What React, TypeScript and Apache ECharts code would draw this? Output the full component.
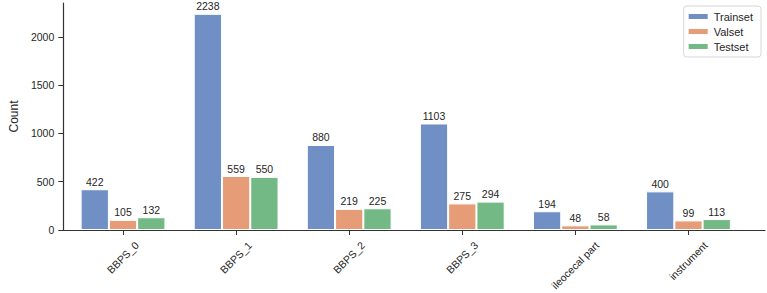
import React, { useEffect, useRef } from "react";
import * as echarts from "echarts";

const categories = ["BBPS_0", "BBPS_1", "BBPS_2", "BBPS_3", "ileocecal part", "instrument"];
const trainset = [422, 2238, 880, 1103, 194, 400];
const valset = [105, 559, 219, 275, 48, 99];
const testset = [132, 550, 225, 294, 58, 113];
const yTicks = [0, 500, 1000, 1500, 2000];

const FONT = "'Liberation Sans', Arial, sans-serif";
const TXT = "#262626";
const XLABEL_SIZE = 10.5;

export default function App() {
  const ref = useRef<HTMLDivElement>(null);
  useEffect(() => {
    document.body.style.margin = "0";
    const chart = echarts.init(ref.current!, null, { renderer: "svg" });
    const yMax = 2350;
    const label = {
      show: true,
      position: "top" as const,
      distance: 2,
      fontSize: 10.5,
      color: TXT,
      fontFamily: FONT,
    };
    const mk = (name: string, data: number[], color: string) => ({
      name,
      type: "bar" as const,
      xAxisIndex: 1,
      yAxisIndex: 1,
      data,
      barWidth: "25%",
      barGap: "0%",
      itemStyle: { color, borderColor: "#ffffff", borderWidth: 1 },
      label,
    });
    chart.setOption({
      animation: false,
      textStyle: { fontFamily: FONT },
      grid: [
        { left: 48, right: 2, top: 3, bottom: 63 },
        { left: 66.5, right: 22, top: 3, bottom: 63 },
      ],
      xAxis: [
        {
          gridIndex: 0,
          type: "value",
          min: 0,
          max: 1,
          axisLine: { show: true, lineStyle: { color: "#333", width: 1.2 } },
          axisTick: { show: false },
          axisLabel: { show: false },
          splitLine: { show: false },
        },
        {
          gridIndex: 1,
          type: "category",
          data: categories,
          axisLine: { show: false },
          axisTick: { show: true, alignWithLabel: true, length: 5, lineStyle: { color: "#333" } },
          axisLabel: { show: false },
        },
      ],
      yAxis: [
        {
          gridIndex: 0,
          type: "value",
          min: 0,
          max: yMax,
          interval: 500,
          name: "Count",
          nameLocation: "middle",
          nameGap: 41,
          nameTextStyle: { fontSize: 12, color: TXT, fontFamily: FONT },
          axisLine: { show: true, lineStyle: { color: "#333", width: 1.2 } },
          axisTick: { show: true, length: 5, lineStyle: { color: "#333" } },
          axisLabel: {
            fontSize: 10.5,
            color: TXT,
            fontFamily: FONT,
            margin: 9,
            showMaxLabel: false,
            formatter: (v: number) => (yTicks.includes(v) ? String(v) : ""),
          },
          splitLine: { show: false },
        },
        {
          gridIndex: 1,
          type: "value",
          min: 0,
          max: yMax,
          show: false,
          splitLine: { show: false },
        },
      ],
      legend: {
        orient: "vertical",
        right: 6,
        top: 6,
        itemWidth: 21,
        itemHeight: 7,
        itemGap: 4,
        padding: [5, 8, 5, 3],
        borderColor: "#d6d6d6",
        borderWidth: 1,
        borderRadius: 3,
        icon: "rect",
        textStyle: { fontSize: 11, color: TXT, fontFamily: FONT },
        data: ["Trainset", "Valset", "Testset"],
      },
      series: [
        mk("Trainset", trainset, "#7090C5"),
        mk("Valset", valset, "#E69C76"),
        mk("Testset", testset, "#73B986"),
      ],
    });

    // rotated x labels, matplotlib-style (rotated bbox centred under the tick)
    const ctx = document.createElement("canvas").getContext("2d")!;
    ctx.font = `${XLABEL_SIZE}px 'Liberation Sans', Arial, sans-serif`;
    const y0 = chart.convertToPixel({ yAxisIndex: 1 }, 0) as number;
    const s = Math.SQRT1_2;
    const labels = categories.map((c) => {
      const x = chart.convertToPixel({ xAxisIndex: 1 }, c) as number;
      const w = ctx.measureText(c).width;
      const h = (w + XLABEL_SIZE) * s;
      return {
        type: "text",
        x: x,
        y: y0 + 10 + h / 2,
        rotation: Math.PI / 4,
        silent: true,
        style: {
          text: c,
          fontSize: XLABEL_SIZE,
          fontFamily: FONT,
          fill: TXT,
          textAlign: "center",
          textVerticalAlign: "middle",
        },
      };
    });
    chart.setOption({ graphic: labels });
    return () => chart.dispose();
  }, []);
  return <div ref={ref} style={{ width: 767, height: 293 }} />;
}
